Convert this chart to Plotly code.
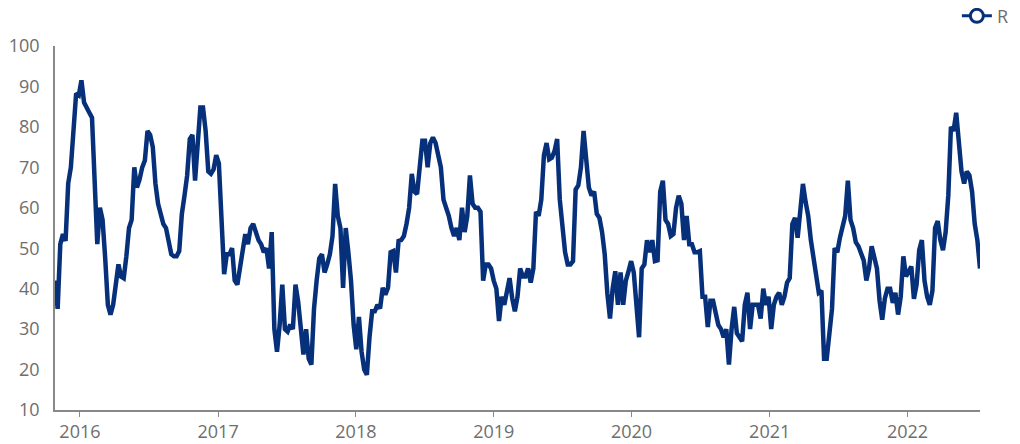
import pandas as pd
import plotly.graph_objects as go

start_date = "2015-10-27"
series_name = "R"
values = [
    42, 35, 51, 53.5, 51.8, 66, 70, 79, 88.3, 87.8,
    91.5, 86, 84.5, 83.5, 82.3, 68, 51, 60, 57, 47.5,
    36, 33.6, 36, 41, 46, 43, 42.6, 48, 55, 57,
    70, 65, 67, 70, 71.7, 79, 78, 75, 66, 61,
    58, 56, 55, 51, 48.5, 48, 48, 49.3, 58.5, 63,
    68, 77, 78, 66.7, 78, 84.8, 84.8, 79, 69, 68.4,
    69.5, 73, 71, 56, 43.6, 48.5, 48.5, 50, 42, 41,
    45, 50, 53.5, 51, 55, 56, 54, 52, 51, 49,
    50, 45, 54, 30, 24.4, 31, 41, 30, 29.4, 31.1,
    30, 41, 36.8, 29, 23.7, 30, 22.7, 21.2, 35, 42,
    47.5, 48.5, 44, 46, 48.5, 53, 65.9, 58, 55, 40.2,
    55, 49, 42, 31, 25, 33, 24.4, 20, 18.7, 28,
    34.4, 34.4, 36, 35.1, 40.2, 38.5, 40.2, 49, 49.3, 44,
    51.8, 52, 53, 56, 60, 68.4, 64, 63.4, 70.9, 76.6,
    76.6, 70, 76, 77.4, 76, 72.4, 70, 62, 60, 58,
    55, 53, 55, 52, 60, 54, 58, 68, 61, 60,
    60, 59, 42, 46, 46, 45, 42, 40, 32, 38,
    36, 40.2, 42.6, 37.6, 34.4, 38, 45, 43, 43, 45,
    41.5, 45, 59, 58, 62, 73, 76, 72, 72.4, 74,
    77, 62, 56, 49, 46, 46, 46.8, 64.5, 65.5, 70,
    79, 72, 65, 63, 64, 58.5, 57.5, 54, 48.5, 38.8,
    32.6, 40, 44.3, 36, 44, 36, 42, 44.3, 46.8, 44,
    34, 28, 45, 46, 52, 49, 52, 46.8, 47, 64,
    66.7, 57, 56, 53, 53.5, 60, 63, 61, 52, 58,
    51, 51, 49, 49, 49.3, 38, 38, 30.5, 37, 37,
    34, 31, 30, 28, 30, 21.2, 30, 35.5, 29, 28,
    27, 36, 39, 30, 36, 36, 36, 32.6, 40, 36,
    38, 30, 36, 38, 39, 36, 38, 41.5, 42.6, 56,
    57.5, 52.6, 60, 65.9, 61.5, 58, 52, 47, 42, 39,
    39.5, 22.7, 22.7, 30, 35, 50, 49, 52.6, 55, 58,
    66.7, 57, 55, 51.5, 50.5, 49, 47, 42, 45, 50.5,
    47.5, 45, 37, 32.3, 37.6, 40, 40, 36.5, 39, 33.6,
    38, 48, 43, 44.5, 45.5, 37.5, 41, 49.5, 52, 42,
    38, 36, 39.5, 55, 56.7, 52, 49.5, 54, 63, 80,
    79, 83.5, 75, 69, 66, 69, 68, 64, 56, 52,
    45,
]
dates = pd.date_range(start=start_date, periods=len(values), freq="7D")
year_ticks = ["2016-01-01", "2017-01-01", "2018-01-01", "2019-01-01",
              "2020-01-01", "2021-01-01", "2022-01-01"]
year_labels = ["2016", "2017", "2018", "2019", "2020", "2021", "2022"]
y_ticks = [10, 20, 30, 40, 50, 60, 70, 80, 90, 100]

navy = "#06307a"
grey = "#6e6e6e"

fig = go.Figure()
fig.add_trace(go.Scatter(
    x=dates, y=values, mode="lines", showlegend=False,
    line=dict(color=navy, width=4.5), name=series_name,
))
fig.add_trace(go.Scatter(
    x=[None], y=[None], mode="lines+markers", name=series_name,
    line=dict(color=navy, width=3),
    marker=dict(symbol="circle", size=13, color="white",
                line=dict(color=navy, width=3)),
))

fig.update_layout(
    width=1012, height=436,
    margin=dict(l=47, r=40, t=38, b=34, autoexpand=False),
    paper_bgcolor="white", plot_bgcolor="white",
    font=dict(family="Open Sans", size=18, color=grey),
    showlegend=True,
    legend=dict(x=0.975, xanchor="left", y=1.082, yanchor="middle",
                orientation="h", font=dict(size=18, color=grey),
                bgcolor="rgba(0,0,0,0)"),
    xaxis=dict(
        type="date", range=[dates[0], dates[-1]],
        tickvals=year_ticks, ticktext=year_labels,
        showgrid=False, zeroline=False,
        showline=True, linecolor="#888888", linewidth=1.5,
        ticks="outside", ticklen=5, tickcolor="#888888",
        tickfont=dict(size=18, color=grey),
    ),
    yaxis=dict(
        range=[10, 100], tickvals=y_ticks,
        showgrid=False, zeroline=False,
        showline=True, linecolor="#888888", linewidth=1.5,
        ticks="", ticklabelstandoff=10,
        tickfont=dict(size=18, color=grey),
    ),
)

fig.write_html("out.html")
